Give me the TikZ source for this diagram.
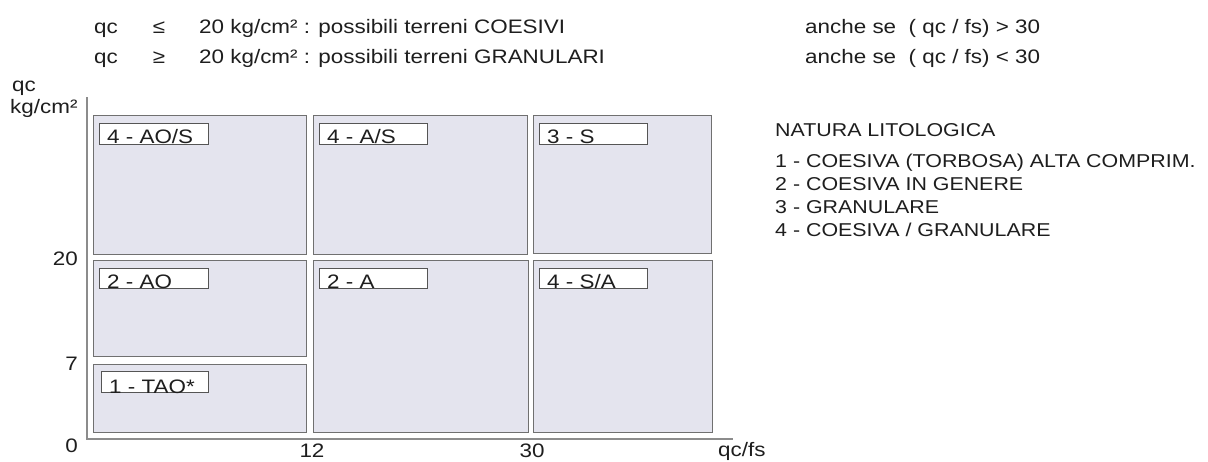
\documentclass[tikz,border=0pt]{standalone}
\usepackage{fontspec}
\setmainfont{Liberation Sans}[FakeStretch=1.15]
\definecolor{zonefill}{HTML}{E4E4EE}
\definecolor{zoneline}{HTML}{707070}
\definecolor{lblline}{HTML}{555555}
\definecolor{axisline}{HTML}{8C8C8C}
\definecolor{ink}{HTML}{1E1E1E}
\begin{document}
\begin{tikzpicture}[x=1pt,y=-1pt,
  txt/.style={inner sep=0pt, text=ink, font=\fontsize{19.5}{23}\selectfont},
  legtxt/.style={txt, font=\fontsize{18.6}{22}\selectfont},
  zone/.style={draw=zoneline, fill=zonefill, line width=1.3pt, anchor=north west, inner sep=0pt},
  lbl/.style={draw=lblline, fill=white, line width=1.2pt, anchor=north west, inner sep=0pt, minimum width=108, minimum height=21},
  axisln/.style={draw=axisline, line width=2pt}]
\useasboundingbox[fill=white] (0,0) rectangle (1208,461);

% header
\node[txt, anchor=base west] (h1a) at (94,33) {qc};
\node[txt, anchor=base] (h1b) at (159,33) {≤};
\node[txt, anchor=base west] (h1c) at (199,33) {20 kg/cm² : possibili terreni COESIVI};
\node[txt, anchor=base west] (h1d) at (805,33) {anche se\ \ ( qc / fs) > 30};
\node[txt, anchor=base west] (h2a) at (94,63) {qc};
\node[txt, anchor=base] (h2b) at (159,63) {≥};
\node[txt, anchor=base west] (h2c) at (199,63) {20 kg/cm² : possibili terreni GRANULARI};
\node[txt, anchor=base west] (h2d) at (805,63) {anche se\ \ ( qc / fs) < 30};

% axis
\coordinate (ytop) at (87,97);
\coordinate (org) at (87,439);
\coordinate (xend) at (733,439);
\draw[axisln] (ytop) -- (org) -- (xend);
\node[txt, anchor=base west] (yl1) at (12,91) {qc};
\node[txt, anchor=base west] (yl2) at (10,113) {kg/cm²};
\node[txt, anchor=base east] (t20) at (78,265) {20};
\node[txt, anchor=base east] (t7) at (78,370) {7};
\node[txt, anchor=base east] (t0) at (78,452) {0};
\node[txt, anchor=base] (t12) at (312,457) {12};
\node[txt, anchor=base] (t30) at (532,457) {30};
\node[txt, anchor=base west] (xl) at (718,456) {qc/fs};

% zones
\node[zone, minimum width=213, minimum height=139] (zAOS) at (93,115) {};
\node[zone, minimum width=214, minimum height=139] (zAS) at (313,115) {};
\node[zone, minimum width=178, minimum height=138] (zS) at (533,115) {};
\node[zone, minimum width=213, minimum height=96] (zAO) at (93,260) {};
\node[zone, minimum width=215, minimum height=172] (zA) at (313,260) {};
\node[zone, minimum width=179, minimum height=172] (zSA) at (533,260) {};
\node[zone, minimum width=213, minimum height=68] (zTAO) at (93,364) {};

% labels
\node[lbl, minimum width=109] (lAOS) at (99,123) {};
\node[lbl] (lAS) at (319,123) {};
\node[lbl] (lS) at (539,123) {};
\node[lbl, minimum width=109, minimum height=20] (lAO) at (99,268) {};
\node[lbl, minimum height=20] (lA) at (319,268) {};
\node[lbl, minimum height=20] (lSA) at (539,268) {};
\node[lbl, minimum width=107] (lTAO) at (101,371) {};
\node[txt, anchor=base west] at ([xshift=8pt,yshift=2pt]lAOS.south west) {4 - AO/S};
\node[txt, anchor=base west] at ([xshift=8pt,yshift=2pt]lAS.south west) {4 - A/S};
\node[txt, anchor=base west] at ([xshift=8pt,yshift=2pt]lS.south west) {3 - S};
\node[txt, anchor=base west] at ([xshift=8pt,yshift=1pt]lAO.south west) {2 - AO};
\node[txt, anchor=base west] at ([xshift=8pt,yshift=1pt]lA.south west) {2 - A};
\node[txt, anchor=base west] at ([xshift=8pt,yshift=1pt]lSA.south west) {4 - S/A};
\node[txt, anchor=base west] at ([xshift=8pt,yshift=0pt]lTAO.south west) {1 - TAO*};

% legend
\node[legtxt, anchor=base west] (lg0) at (775,136) {NATURA LITOLOGICA};
\node[legtxt, anchor=base west] (lg1) at (775,167) {1 - COESIVA (TORBOSA) ALTA COMPRIM.};
\node[legtxt, anchor=base west] (lg2) at (775,190) {2 - COESIVA IN GENERE};
\node[legtxt, anchor=base west] (lg3) at (775,213) {3 - GRANULARE};
\node[legtxt, anchor=base west] (lg4) at (775,236) {4 - COESIVA / GRANULARE};
\end{tikzpicture}
\end{document}
